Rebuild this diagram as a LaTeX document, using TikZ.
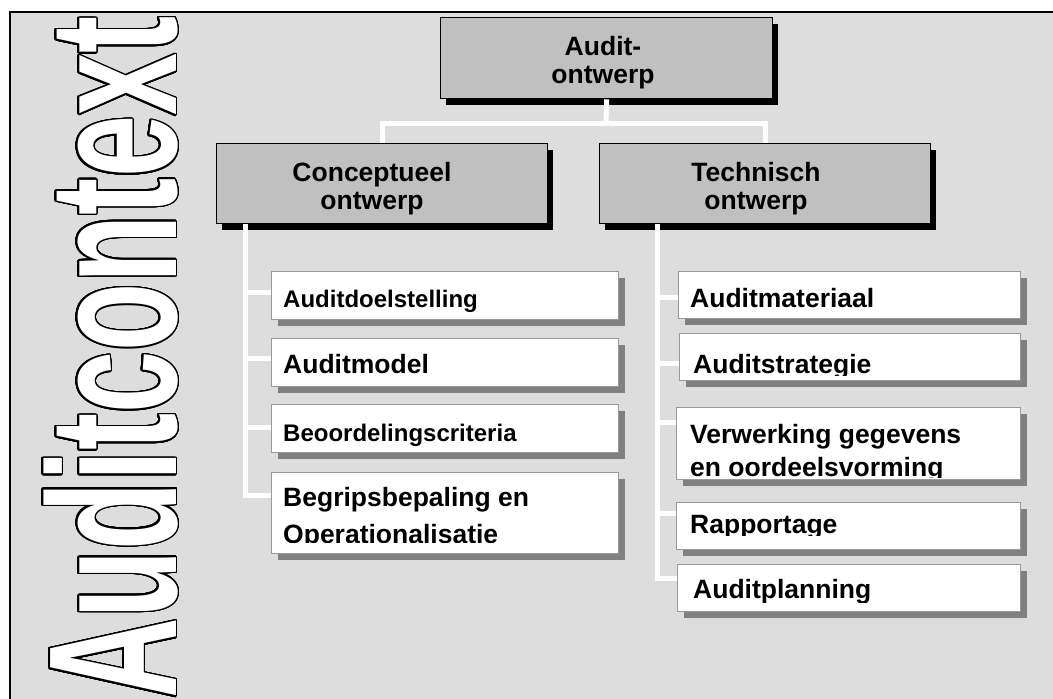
\documentclass[tikz,border=0pt]{standalone}
\usepackage{fontspec}
\setmainfont{Liberation Sans}
\newfontfamily\vfont[FakeStretch=0.61]{Liberation Sans}
\usepackage[copies]{contour}
\usetikzlibrary{shadows}
\definecolor{bgc}{HTML}{DDDDDD}
\definecolor{hdrc}{HTML}{C0C0C0}
\definecolor{shdc}{HTML}{808080}
\definecolor{edgec}{HTML}{9A9A9A}
\contourlength{1.5pt}
\contournumber{32}
\newcommand\cpair[3]{\vtop{\baselineskip=#3pt\halign{\hfil##\hfil\cr #1\cr #2\cr}}}
\newcommand\lpair[3]{\vtop{\baselineskip=#3pt\halign{##\hfil\cr #1\cr #2\cr}}}
\tikzset{
  hdrbox/.style={draw=black, line width=1.3pt, fill=hdrc, inner sep=0, anchor=north west,
    drop shadow={shadow xshift=5pt, shadow yshift=-6pt, fill=black, opacity=1}},
  leafbox/.style={draw=edgec, line width=1pt, fill=white, inner sep=0, anchor=north west,
    drop shadow={shadow xshift=6pt, shadow yshift=-6pt, fill=shdc, opacity=1}},
  lbl/.style={inner sep=0, anchor=base west, font={\fontsize{26.5pt}{28pt}\selectfont\bfseries}},
  slbl/.style={lbl, font={\fontsize{24pt}{28pt}\selectfont\bfseries}},
  hlbl/.style={inner sep=0, anchor=base, font={\fontsize{26.5pt}{28pt}\selectfont\bfseries}},
  conn/.style={draw=white, line width=5pt}
}
\begin{document}
\begin{tikzpicture}[x=1pt, y=-1pt]
\useasboundingbox (0,0) rectangle (1053,699);
\fill[white] (0,0) rectangle (1053,699);
\fill[bgc] (10,12) rectangle (1053,699);
\draw[line width=1.5pt] (10,699) -- (10,12) -- (1053,12);

% header boxes
\node[hdrbox, minimum width=332pt, minimum height=81pt] (top) at (440,17) {};
\node[hdrbox, minimum width=331pt, minimum height=80pt] (cb) at (216,143) {};
\node[hdrbox, minimum width=331pt, minimum height=80pt] (tb) at (599,143) {};

% connectors between header boxes
\coordinate (j) at (606,123);
\draw[conn] (top.south) -- (j);
\draw[conn] (cb.north) |- (j) -| (tb.north);
\path (cb.south) ++(-136.5,0) coordinate (sL);
\path (tb.south) ++(-107.5,0) coordinate (sR);

% leaf boxes
\node[leafbox, minimum width=347pt, minimum height=48pt] (L1) at (271,271) {};
\node[leafbox, minimum width=347pt, minimum height=48pt] (L2) at (271,338) {};
\node[leafbox, minimum width=347pt, minimum height=48pt] (L3) at (271,404) {};
\node[leafbox, minimum width=347pt, minimum height=81pt] (L4) at (271,472) {};
\node[leafbox, minimum width=342pt, minimum height=47pt] (R1) at (678,271) {};
\node[leafbox, minimum width=341pt, minimum height=47pt] (R2) at (679,333) {};
\node[leafbox, minimum width=344pt, minimum height=72pt] (R3) at (676,407) {};
\node[leafbox, minimum width=344pt, minimum height=47pt] (R4) at (676,502) {};
\node[leafbox, minimum width=343pt, minimum height=47pt] (R5) at (677,564) {};

% tree connectors
\draw[conn] (sL) |- ([yshift=3pt]L1.west);
\draw[conn] (sL) |- ([yshift=4pt]L2.west);
\draw[conn] (sL) |- ([yshift=1pt]L3.west);
\draw[conn] (sL) |- ([yshift=17.5pt]L4.west);
\draw[conn] (sR) |- ([yshift=-2.5pt]R1.west);
\draw[conn] (sR) |- ([yshift=-6.5pt]R2.west);
\draw[conn] (sR) |- ([yshift=21pt]R3.west);
\draw[conn] (sR) |- ([yshift=12.5pt]R4.west);
\draw[conn] (sR) |- ([yshift=9.5pt]R5.west);

% texts
\node[hlbl] (ttop) at (603,55) {\cpair{Audit-}{ontwerp}{28}};
\node[hlbl] (tcb) at (372,181) {\cpair{Conceptueel}{ontwerp}{28}};
\node[hlbl] (ttb) at (756,181) {\cpair{Technisch}{ontwerp}{28}};

\node[slbl] (tL1) at (283,307) {Auditdoelstelling};
\node[lbl] (tL2) at (283,373) {Auditmodel};
\node[slbl] (tL3) at (283,441) {Beoordelingscriteria};
\begin{scope}
\clip (271,472) rectangle (618,542);
\node[lbl] (tL4) at (283,506) {\lpair{Begripsbepaling en}{Operationalisatie}{37}};
\end{scope}

\node[lbl] (tR1) at (690,307) {Auditmateriaal};
\begin{scope}
\clip (679,333) rectangle (1020,375);
\node[lbl] (tR2) at (693,373) {Auditstrategie};
\end{scope}
\begin{scope}
\clip (676,407) rectangle (1020,477);
\node[lbl] (tR3) at (690,443) {\lpair{Verwerking gegevens}{en oordeelsvorming}{33}};
\end{scope}
\begin{scope}
\clip (676,502) rectangle (1020,535);
\node[lbl] (tR4) at (690,533) {Rapportage};
\end{scope}
\begin{scope}
\clip (677,564) rectangle (1020,602);
\node[lbl] (tR5) at (693,598) {Auditplanning};
\end{scope}

% vertical title
\node[rotate=90, anchor=base west, inner sep=0,
      font={\vfont\bfseries\fontsize{183pt}{183pt}\selectfont}] (vt) at (176,699)
      {\color{white}\contour{black}{Auditcontext}};
\end{tikzpicture}
\end{document}
